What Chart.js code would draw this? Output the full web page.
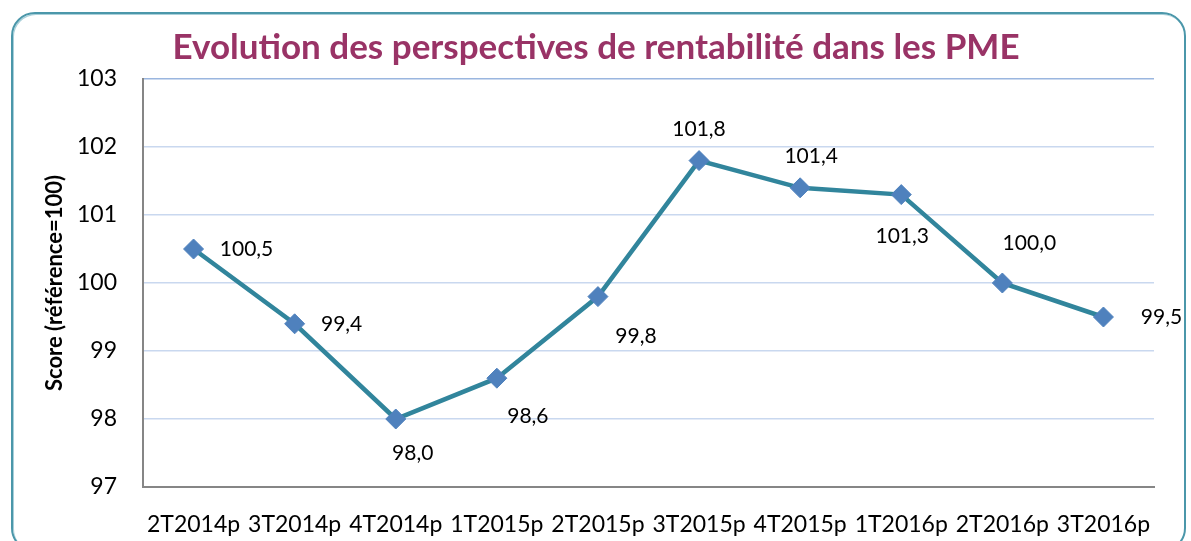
<!DOCTYPE html>
<html>
<head>
<meta charset="utf-8">
<script src="https://cdn.jsdelivr.net/npm/chart.js@4.4.1/dist/chart.umd.min.js"></script>
<style>
  body { margin: 0; background: #fff; }
  #wrap { position: relative; width: 1191px; height: 541px; overflow: hidden; }
  #frame {
    position: absolute; left: 11px; top: 12px; width: 1175px; height: 540px;
    border: 2px solid #4b97aa; border-radius: 24px; box-sizing: border-box;
    box-shadow: inset 1px 1px 0 #a9d0da;
  }
  canvas { position: absolute; left: 0; top: 0; }
</style>
</head>
<body>
<div id="wrap">
  <div id="frame"></div>
  <canvas id="chart" width="1191" height="541"></canvas>
</div>
<script>
const categories = ['2T2014p', '3T2014p', '4T2014p', '1T2015p', '2T2015p', '3T2015p', '4T2015p', '1T2016p', '2T2016p', '3T2016p'];
const scores = [100.5, 99.4, 98.0, 98.6, 99.8, 101.8, 101.4, 101.3, 100.0, 99.5];
const yTicks = [97, 98, 99, 100, 101, 102, 103];

// where each value label sits relative to its point
const labelShift = [[53, 0], [47, 0], [17, 34], [31, 38], [38, 40], [0, -31], [11, -32], [1, 42], [27, -40], [58, 0]];

const FONT = 'Lato, "Noto Sans", sans-serif';

const valueLabels = {
    id: 'valueLabels',
    afterDatasetsDraw(chart) {
        const ctx = chart.ctx;
        const meta = chart.getDatasetMeta(0);
        ctx.save();
        ctx.font = '21px ' + FONT;
        ctx.fillStyle = '#000';
        ctx.textAlign = 'center';
        ctx.textBaseline = 'middle';
        meta.data.forEach(function(pt, i) {
            const txt = scores[i].toFixed(1).replace('.', ',');
            ctx.fillText(txt, pt.x + labelShift[i][0], pt.y + labelShift[i][1]);
        });
        ctx.restore();
    }
};

new Chart(document.getElementById('chart'), {
    type: 'line',
    data: {
        labels: categories,
        datasets: [{
            data: scores,
            borderColor: '#31859c',
            borderWidth: 4.5,
            pointStyle: 'rectRot',
            pointRadius: 10,
            pointBackgroundColor: '#4f81bd',
            pointBorderColor: '#4f81bd',
            pointBorderWidth: 1,
            tension: 0
        }]
    },
    options: {
        responsive: false,
        animation: false,
        layout: { padding: { left: 38, right: 37, top: 27, bottom: 0 } },
        plugins: {
            legend: { display: false },
            tooltip: { enabled: false },
            title: {
                display: true,
                text: 'Evolution des perspectives de rentabilité dans les PME',
                color: '#993366',
                font: { family: FONT, size: 35, weight: 'bold' },
                padding: { top: 0, bottom: 10 }
            }
        },
        scales: {
            x: {
                offset: true,
                grid: { display: false },
                border: { display: true, color: '#868686', width: 2 },
                ticks: {
                    color: '#000',
                    font: { family: FONT, size: 23 },
                    padding: 16,
                    maxRotation: 0,
                    autoSkip: false
                },
                afterFit(scale) { scale.height = 54; }
            },
            y: {
                min: 97,
                max: 103,
                afterBuildTicks(scale) { scale.ticks = yTicks.map(v => ({ value: v })); },
                grid: {
                    drawTicks: false,
                    color: ctx => ctx.tick && ctx.tick.value === 103 ? '#9ab6df' : '#c9d8ef',
                    lineWidth: 1.5
                },
                border: { display: true, color: '#868686', width: 2 },
                ticks: {
                    color: '#000',
                    font: { family: FONT, size: 23 },
                    padding: 26
                },
                title: {
                    display: true,
                    text: 'Score (référence=100)',
                    color: '#000',
                    font: { family: FONT, size: 22, weight: 'bold' },
                    padding: { top: 4, bottom: 4 }
                },
                afterFit(scale) { scale.width = 105; }
            }
        }
    },
    plugins: [valueLabels]
});
</script>
</body>
</html>
